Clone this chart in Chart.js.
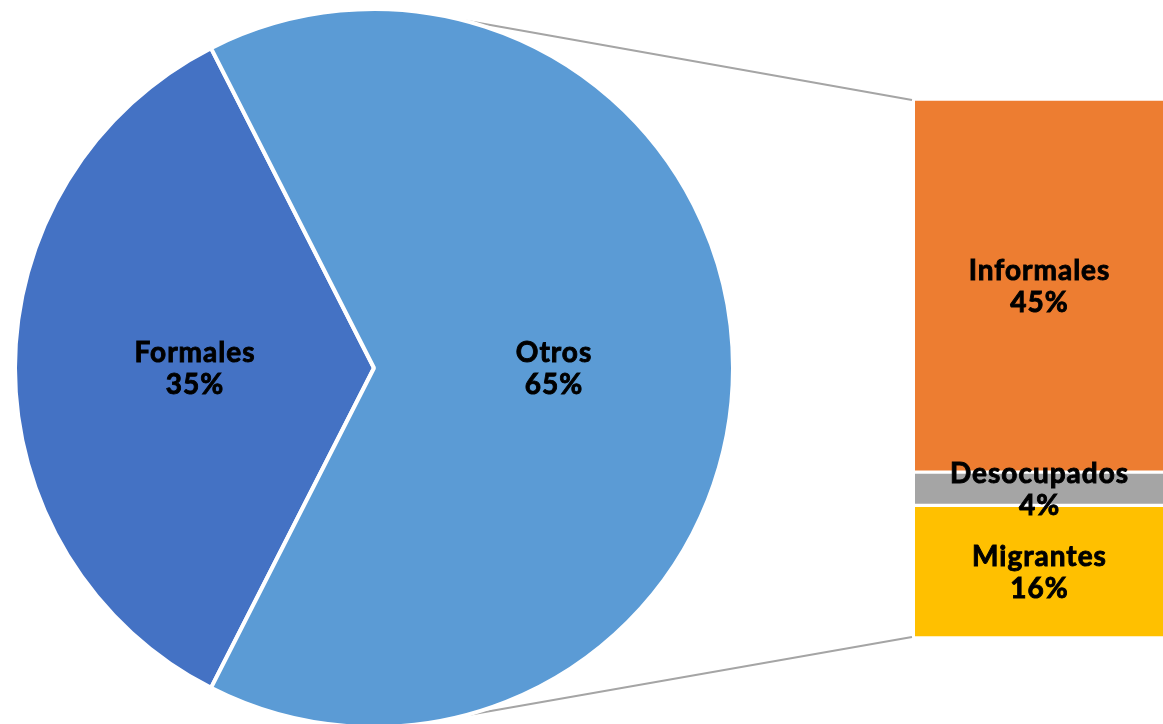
<!DOCTYPE html>
<html>
<head>
<meta charset="utf-8">
<script src="https://cdn.jsdelivr.net/npm/chart.js@4"></script>
<style>
  html, body { margin: 0; padding: 0; background: #fff; overflow: hidden; }
  #wrap { position: relative; width: 1163px; height: 724px; }
  canvas { position: absolute; }
</style>
</head>
<body>
<div id="wrap">
  <canvas id="lines" width="1163" height="724" style="left:0;top:0"></canvas>
  <canvas id="piechart" width="748" height="724" style="left:0;top:0"></canvas>
  <canvas id="barchart" width="248" height="539" style="left:915px;top:99px"></canvas>
</div>
<script>
Chart.defaults.font.family = 'Lato, "Open Sans", sans-serif';

// main pie
const pieLabels = ['Formales', 'Otros'];
const pieValues = [35, 65];
const pieColors = ['#4472C4', '#5B9BD5'];

// breakdown of "Otros" (top to bottom)
const barLabels = ['Informales', 'Desocupados', 'Migrantes'];
const barValues = [45, 4, 16];
const barColors = ['#ED7D31', '#A5A5A5', '#FFC000'];

const labelFont = 'bold 28px Lato, "Open Sans", sans-serif';

function drawLabel(ctx, x, y, name, val) {
    ctx.save();
    ctx.fillStyle = '#000';
    ctx.strokeStyle = '#000';
    ctx.lineWidth = 0.9;
    ctx.font = labelFont;
    ctx.letterSpacing = '1px';
    ctx.textAlign = 'center';
    ctx.textBaseline = 'alphabetic';
    // letterSpacing adds trailing space, shift half back
    ctx.fillText(name, x + 0.5, y - 6);
    ctx.strokeText(name, x + 0.5, y - 6);
    ctx.fillText(val + '%', x + 0.5, y + 26);
    ctx.strokeText(val + '%', x + 0.5, y + 26);
    ctx.restore();
}

const pieLabelPlugin = {
    id: 'pieLabels',
    afterDatasetsDraw(chart) {
        const meta = chart.getDatasetMeta(0);
        meta.data.forEach((arc, i) => {
            const p = arc.tooltipPosition();
            drawLabel(chart.ctx, p.x, p.y, pieLabels[i], pieValues[i]);
        });
    }
};

const barLabelPlugin = {
    id: 'barLabels',
    afterDatasetsDraw(chart) {
        chart.data.datasets.forEach((ds, d) => {
            const bar = chart.getDatasetMeta(d).data[0];
            const p = bar.getCenterPoint();
            drawLabel(chart.ctx, p.x, p.y, ds.label, ds.data[0]);
        });
    }
};

const pie = new Chart(document.getElementById('piechart'), {
    type: 'pie',
    data: {
        labels: pieLabels,
        datasets: [{
            data: pieValues,
            backgroundColor: pieColors,
            borderColor: '#ffffff',
            borderWidth: 4,
            radius: 359
        }]
    },
    options: {
        responsive: false,
        animation: false,
        rotation: 207,
        layout: { padding: { top: 12, bottom: 0 } },
        plugins: { legend: { display: false }, tooltip: { enabled: false } }
    },
    plugins: [pieLabelPlugin]
});

// stacked bar: first dataset sits at the bottom, so reverse
const barDatasets = barLabels.map((name, i) => ({
    label: name,
    data: [barValues[i]],
    backgroundColor: barColors[i],
    borderColor: '#ffffff',
    borderWidth: { top: 2, bottom: 2, left: 0, right: 0 },
    borderSkipped: false,
    barPercentage: 1,
    categoryPercentage: 1
})).reverse();

const bar = new Chart(document.getElementById('barchart'), {
    type: 'bar',
    data: { labels: ['Otros'], datasets: barDatasets },
    options: {
        responsive: false,
        animation: false,
        layout: { padding: 0 },
        scales: {
            x: { stacked: true, display: false },
            y: { stacked: true, display: false, min: 0, max: 65 }
        },
        plugins: { legend: { display: false }, tooltip: { enabled: false } }
    },
    plugins: [barLabelPlugin]
});

// connector lines from pie to bar
function drawConnectors() {
    const lc = document.getElementById('lines').getContext('2d');
    const arc = pie.getDatasetMeta(0).data[1];
    const cx = arc.x, cy = arc.y, r = arc.outerRadius;
    const barCanvas = document.getElementById('barchart');
    const ox = barCanvas.offsetLeft, oy = barCanvas.offsetTop;
    const topBar = bar.getDatasetMeta(barDatasets.length - 1).data[0];
    const botBar = bar.getDatasetMeta(0).data[0];
    const left = ox + topBar.x - topBar.width / 2;
    const topY = oy + topBar.y + 2;
    const botY = oy + botBar.base - 2;
    const a = 76 * Math.PI / 180;
    lc.strokeStyle = '#A5A5A5';
    lc.lineWidth = 2;
    lc.beginPath();
    lc.moveTo(cx + r * Math.cos(-a), cy + r * Math.sin(-a));
    lc.lineTo(left - 3, topY - 1);
    lc.moveTo(cx + r * Math.cos(a), cy + r * Math.sin(a));
    lc.lineTo(left - 3, botY + 1);
    lc.stroke();
}
drawConnectors();
</script>
</body>
</html>
